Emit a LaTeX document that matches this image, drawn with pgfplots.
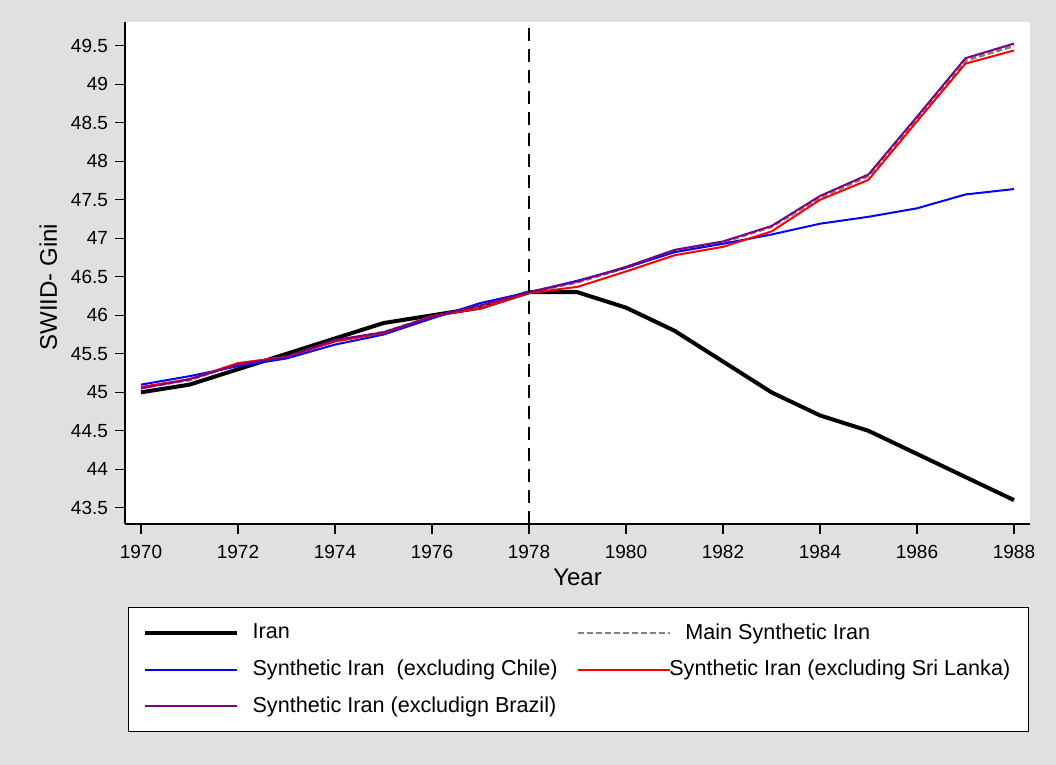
\documentclass[border=0pt]{standalone}
\usepackage{fontspec}
\setmainfont{Liberation Sans}
\usepackage{pgfplots}
\pgfplotsset{compat=1.18}
\definecolor{bg}{RGB}{224,224,224}
\definecolor{purp}{RGB}{128,0,128}
\definecolor{mgray}{RGB}{128,128,128}
\begin{document}
\begin{tikzpicture}
\fill[bg] (0,0) rectangle (528pt,382.5pt);
\begin{axis}[
 at={(62.5pt,120.5pt)}, anchor=south west,
 scale only axis, width=452.5pt, height=251pt,
 xmin=1969.67, xmax=1988.33, ymin=43.29, ymax=49.81,
 axis x line*=bottom, axis y line*=left,
 axis line style={-, line width=0.6pt},
 axis background/.style={fill=white},
 xtick={1970,1972,1974,1976,1978,1980,1982,1984,1986,1988},
 ytick={43.5,44,44.5,45,45.5,46,46.5,47,47.5,48,48.5,49,49.5},
 tick align=outside, major tick length=5pt, tick style={black, line width=0.6pt},
 /pgf/number format/assume math mode=true,
 x tick label style={/pgf/number format/1000 sep={}, font=\fontsize{9.5}{11}\selectfont, yshift=-2pt},
 y tick label style={font=\fontsize{9.5}{11}\selectfont},
 xlabel=Year, ylabel={SWIID- Gini},
 label style={font=\fontsize{12}{14}\selectfont},
 xlabel style={yshift=1.5pt},
 ylabel style={at={(ticklabel cs:0.492)}, xshift=-5pt},
 legend columns=2,
 legend cell align=left,
 legend image code/.code={\draw[#1] (0pt,0pt) -- (46pt,0pt);},
 legend style={at={(0.0033,-0.1653)}, anchor=north west, draw=black, fill=white,
   line width=0.6pt, font=\fontsize{10.8}{12}\selectfont,
   inner xsep=7pt, inner ysep=6pt, row sep=5pt,
   /tikz/every odd column/.append style={column sep=5pt},
   /tikz/every even column/.append style={column sep=7.5pt}},
]
\addplot[black, line width=2pt] coordinates {
(1970,45.0) (1971,45.1) (1972,45.3) (1973,45.5) (1974,45.7) (1975,45.9) (1976,46.0) (1977,46.1) (1978,46.3) (1979,46.3) (1980,46.1) (1981,45.8) (1982,45.4) (1983,45.0) (1984,44.7) (1985,44.5) (1986,44.2) (1987,43.9) (1988,43.6)};
\addlegendentry{Iran}
\addplot[mgray, line width=1.4pt, dash pattern=on 3pt off 1.5pt] coordinates {
(1970,45.06) (1971,45.16) (1972,45.37) (1973,45.46) (1974,45.67) (1975,45.78) (1976,45.98) (1977,46.12) (1978,46.30) (1979,46.43) (1980,46.62) (1981,46.84) (1982,46.95) (1983,47.15) (1984,47.53) (1985,47.81) (1986,48.55) (1987,49.31) (1988,49.50)};
\addlegendentry{Main Synthetic Iran}
\addplot[blue, line width=1pt] coordinates {
(1970,45.10) (1971,45.21) (1972,45.34) (1973,45.44) (1974,45.62) (1975,45.75) (1976,45.96) (1977,46.16) (1978,46.30) (1979,46.45) (1980,46.62) (1981,46.82) (1982,46.93) (1983,47.05) (1984,47.19) (1985,47.28) (1986,47.39) (1987,47.57) (1988,47.64)};
\addlegendentry{Synthetic Iran\ \ (excluding Chile)}
\addplot[red, line width=1pt] coordinates {
(1970,45.07) (1971,45.17) (1972,45.38) (1973,45.46) (1974,45.66) (1975,45.77) (1976,45.99) (1977,46.09) (1978,46.29) (1979,46.37) (1980,46.57) (1981,46.78) (1982,46.89) (1983,47.09) (1984,47.50) (1985,47.76) (1986,48.52) (1987,49.27) (1988,49.44)};
\addlegendentry{\hspace*{-8pt}Synthetic Iran (excluding Sri Lanka)}
\addplot[purp, line width=1pt] coordinates {
(1970,45.05) (1971,45.17) (1972,45.36) (1973,45.46) (1974,45.68) (1975,45.78) (1976,45.98) (1977,46.13) (1978,46.30) (1979,46.44) (1980,46.63) (1981,46.85) (1982,46.96) (1983,47.16) (1984,47.55) (1985,47.83) (1986,48.58) (1987,49.34) (1988,49.53)};
\addlegendentry{Synthetic Iran (excludign Brazil)}
\addplot[black, line width=1pt, dash pattern=on 6.5pt off 4pt, forget plot] coordinates {(1978,43.29) (1978,49.81)};
\end{axis}
\end{tikzpicture}
\end{document}
